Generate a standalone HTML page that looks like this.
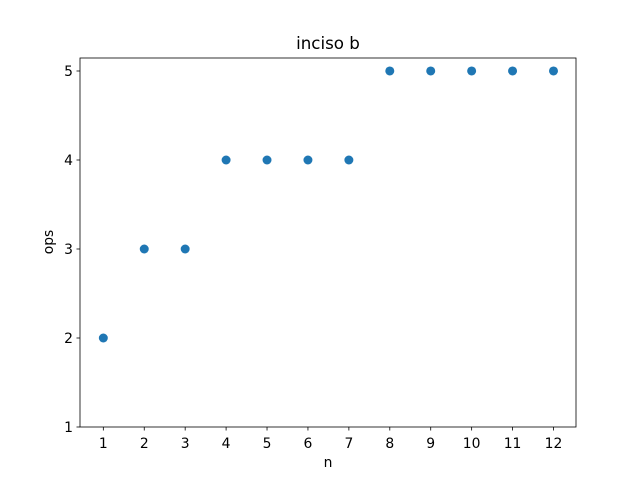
<!DOCTYPE html>
<html><head><meta charset="utf-8"><style>body{margin:0;background:#fff}svg{display:block}text{font-family:"DejaVu Sans","Liberation Sans",sans-serif;fill:#000}</style></head>
<body>
<svg id="chart" width="640" height="480" viewBox="0 0 640 480">
<rect width="640" height="480" fill="#fff"/>
<g id="ticks"></g>
<g id="points"></g>
<rect x="80" y="58" width="496" height="369" fill="none" stroke="#000" stroke-width="0.8"/>
<text x="328" y="49" font-size="16.7" text-anchor="middle">inciso b</text>
<text x="328" y="467" font-size="13.9" text-anchor="middle">n</text>
<text x="53" y="242" font-size="13.9" text-anchor="middle" transform="rotate(-90 53 242)">ops</text>
</svg>
<script>
const nValues=[1,2,3,4,5,6,7,8,9,10,11,12];
const opsValues=[2,3,3,4,4,4,4,5,5,5,5,5];
const xTicks=[1,2,3,4,5,6,7,8,9,10,11,12];
const yTicks=[1,2,3,4,5];
const X0=80,X1=576,Y0=427,Y1=58;
const xmin=0.43,xmax=12.55,ymin=1,ymax=5.146;
function sx(v){return X0+(v-xmin)/(xmax-xmin)*(X1-X0);}
function sy(v){return Y0-(v-ymin)/(ymax-ymin)*(Y0-Y1);}
const NS='http://www.w3.org/2000/svg';
const tg=document.getElementById('ticks'),pg=document.getElementById('points');
function mk(t,a,p){const e=document.createElementNS(NS,t);for(const k in a)e.setAttribute(k,a[k]);p.appendChild(e);return e;}
xTicks.forEach(v=>{const x=sx(v);
const l=mk('line',{x1:x,x2:x,y1:Y0,y2:Y0+3.5,stroke:'#000','stroke-width':0.8},tg);


const t=mk('text',{x:x,y:Y0+21,'font-size':13.9,'text-anchor':'middle'},tg);t.textContent=v;

});
yTicks.forEach(v=>{const y=sy(v);
const l=mk('line',{x1:X0-3.5,x2:X0,y1:y,y2:y,stroke:'#000','stroke-width':0.8},tg);


const t=mk('text',{x:X0-7,y:y+5,'font-size':13.9,'text-anchor':'end'},tg);t.textContent=v;

});
nValues.forEach((n,i)=>{const c=mk('circle',{cx:sx(n),cy:sy(opsValues[i]),r:4.5,fill:'#1f77b4'},pg);

});
</script>
</body></html>
